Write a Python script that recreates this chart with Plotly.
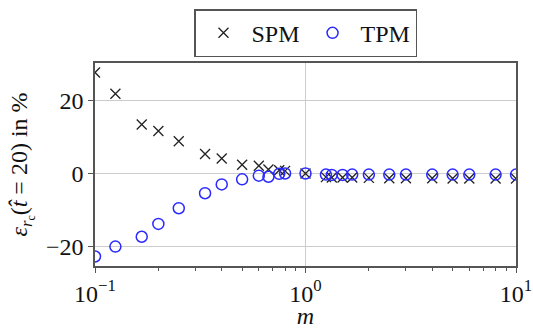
import plotly.graph_objects as go

m = [0.1, 0.125, 0.1667, 0.2, 0.25, 0.3333, 0.4, 0.5, 0.6, 0.6667, 0.75, 0.8,
     1.0, 1.25, 1.3333, 1.5, 1.6667, 2.0, 2.5, 3.0, 4.0, 5.0, 6.0, 8.0, 10.0]
spm = [27.6, 21.8, 13.4, 11.6, 8.8, 5.3, 4.1, 2.4, 2.1, 1.1, 0.9, 0.7,
       0.0, -1.0, -1.1, -1.1, -1.1, -1.2, -1.3, -1.3, -1.3, -1.4, -1.4, -1.4, -1.4]
tpm = [-22.7, -20.0, -17.3, -13.8, -9.5, -5.4, -3.0, -1.6, -0.6, -0.9, -0.1, 0.0,
       0.0, -0.3, -0.4, -0.4, -0.3, -0.3, -0.3, -0.3, -0.3, -0.3, -0.3, -0.3, -0.3]

x_tickvals = [0.1, 1, 10]
x_ticktext = ["10<sup>−1</sup>", "10<sup>0</sup>", "10<sup>1</sup>"]
x_minor = [k * 10 ** e for e in (-1, 0) for k in range(2, 10)]

FONT = "Liberation Serif"
FS = 24

fig = go.Figure()
fig.add_trace(go.Scatter(
    x=m, y=spm, mode="markers", name="SPM",
    marker=dict(symbol="x-thin-open", size=10, color="#222222",
                line=dict(width=1.3, color="#222222")),
))
fig.add_trace(go.Scatter(
    x=m, y=tpm, mode="markers", name="TPM",
    marker=dict(symbol="circle-open", size=11, color="#2a2aff",
                line=dict(width=1.5, color="#2a2aff")),
))

axis_common = dict(
    showline=True, linecolor="#555555", linewidth=1.5, mirror=True,
    showgrid=True, gridcolor="#cccccc", gridwidth=1,
    ticks="outside", ticklen=5, tickcolor="#555555", tickwidth=1,
    zeroline=False, automargin=False,
    tickfont=dict(family=FONT, size=FS, color="#111111"),
)

fig.update_xaxes(
    type="log", range=[-1, 1],
    tickvals=x_tickvals, ticktext=x_ticktext,
    minor=dict(ticks="outside", ticklen=3, tickvals=x_minor,
               tickcolor="#555555", showgrid=False),
    title=dict(text="<i>m</i>", font=dict(family=FONT, size=FS, color="#111111"),
               standoff=6),
    **axis_common,
)
fig.update_yaxes(
    range=[-25.3, 30.2],
    tickvals=[-20, 0, 20],
    title=dict(text="<i>ε</i><sub><i>r</i><sub>c</sub></sub>(<i>t̂</i> = 20) in %",
               font=dict(family=FONT, size=FS, color="#111111"), standoff=12),
    **axis_common,
)

fig.update_layout(
    width=533, height=329,
    margin=dict(l=95, r=17, t=63, b=63, autoexpand=False),
    paper_bgcolor="white", plot_bgcolor="white",
    font=dict(family=FONT, size=FS, color="#111111"),
    showlegend=True,
    legend=dict(
        orientation="h", x=0.5, xanchor="center", y=1.265, yanchor="top",
        bordercolor="#555555", borderwidth=1.5, bgcolor="white",
        font=dict(family=FONT, size=FS, color="#111111"),
        itemwidth=46,
    ),
)

fig.write_html(
    "out.html",
    config={"displayModeBar": False},
    post_script="document.body.style.margin='0';document.body.style.padding='0';",
)
